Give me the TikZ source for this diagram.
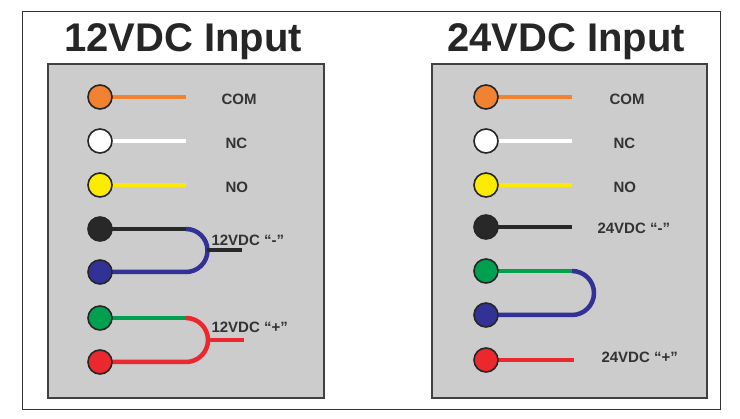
\documentclass[tikz,border=0pt]{standalone}
\usepackage{fontspec}
\setmainfont{Liberation Sans}
\begin{document}
\begin{tikzpicture}[x=1pt,y=-1pt,
  pin/.style={circle,draw=black!85,line width=1.6pt,minimum size=24pt,inner sep=0pt},
  wire/.style={line width=4.5pt},
  lbl/.style={font=\bfseries\fontsize{15}{15}\selectfont,text=black!80,anchor=west},
  ttl/.style={font=\bfseries\fontsize{40}{40}\selectfont,text=black!85},
  panel/.style={draw=black!75,line width=1.5pt,fill=black!20}]
\definecolor{cor}{RGB}{240,130,50}
\definecolor{cye}{RGB}{250,235,0}
\definecolor{cbl}{RGB}{50,50,150}
\definecolor{cgr}{RGB}{0,160,80}
\definecolor{cre}{RGB}{235,40,45}
\definecolor{cbk}{RGB}{40,40,40}
\useasboundingbox (0,0) rectangle (740,419);
\fill[white] (0,0) rectangle (740,419);
\draw[black!80,line width=1pt] (22,12) rectangle (720,410);
\node[ttl] (t1) at (183,42) {12VDC Input};
\node[ttl] (t2) at (566,42) {24VDC Input};
\draw[panel] (48,64) rectangle (324,398);
\draw[panel] (432,64) rectangle (707,398);
% left
\draw[wire,cor] (100,97) -- (186,97);
\draw[wire,white] (100,141) -- (186,141);
\draw[wire,cye] (100,185) -- (186,185);
\draw[wire,cbk] (100,229) -- (186,229);
\draw[wire,cbl] (186,229) arc[start angle=-90,end angle=90,radius=21.5] -- (100,272);
\draw[wire,cbk] (207,250) -- (242,250);
\draw[wire,cgr] (100,318) -- (186,318);
\draw[wire,cre] (186,318) arc[start angle=-90,end angle=90,radius=22] -- (100,362);
\draw[wire,cre] (208,340) -- (244,340);
\node[pin,fill=cor] (l1) at (100,97) {};
\node[pin,fill=white] (l2) at (100,141) {};
\node[pin,fill=cye] (l3) at (100,185) {};
\node[pin,fill=cbk] (l4) at (100,229) {};
\node[pin,fill=cbl] (l5) at (100,272) {};
\node[pin,fill=cgr] (l6) at (100,318) {};
\node[pin,fill=cre] (l7) at (100,362) {};
\node[lbl] (a1) at (218,99) {COM};
\node[lbl] (a2) at (222,143) {NC};
\node[lbl] (a3) at (222,187) {NO};
\node[lbl] (a4) at (208,240) {12VDC “-”};
\node[lbl] (a5) at (208,327) {12VDC “+”};
% right
\draw[wire,cor] (486,97) -- (572,97);
\draw[wire,white] (486,141) -- (572,141);
\draw[wire,cye] (486,185) -- (572,185);
\draw[wire,cbk] (486,227) -- (572,227);
\draw[wire,cgr] (486,271) -- (572,271);
\draw[wire,cbl] (572,271) arc[start angle=-90,end angle=90,radius=22] -- (486,315);
\draw[wire,cre] (486,360) -- (574,360);
\node[pin,fill=cor] (r1) at (486,97) {};
\node[pin,fill=white] (r2) at (486,141) {};
\node[pin,fill=cye] (r3) at (486,185) {};
\node[pin,fill=cbk] (r4) at (486,227) {};
\node[pin,fill=cgr] (r5) at (486,271) {};
\node[pin,fill=cbl] (r6) at (486,315) {};
\node[pin,fill=cre] (r7) at (486,360) {};
\node[lbl] (b1) at (606,99) {COM};
\node[lbl] (b2) at (610,143) {NC};
\node[lbl] (b3) at (610,187) {NO};
\node[lbl] (b4) at (594,228) {24VDC “-”};
\node[lbl] (b5) at (598,357) {24VDC “+”};
\end{tikzpicture}
\end{document}
